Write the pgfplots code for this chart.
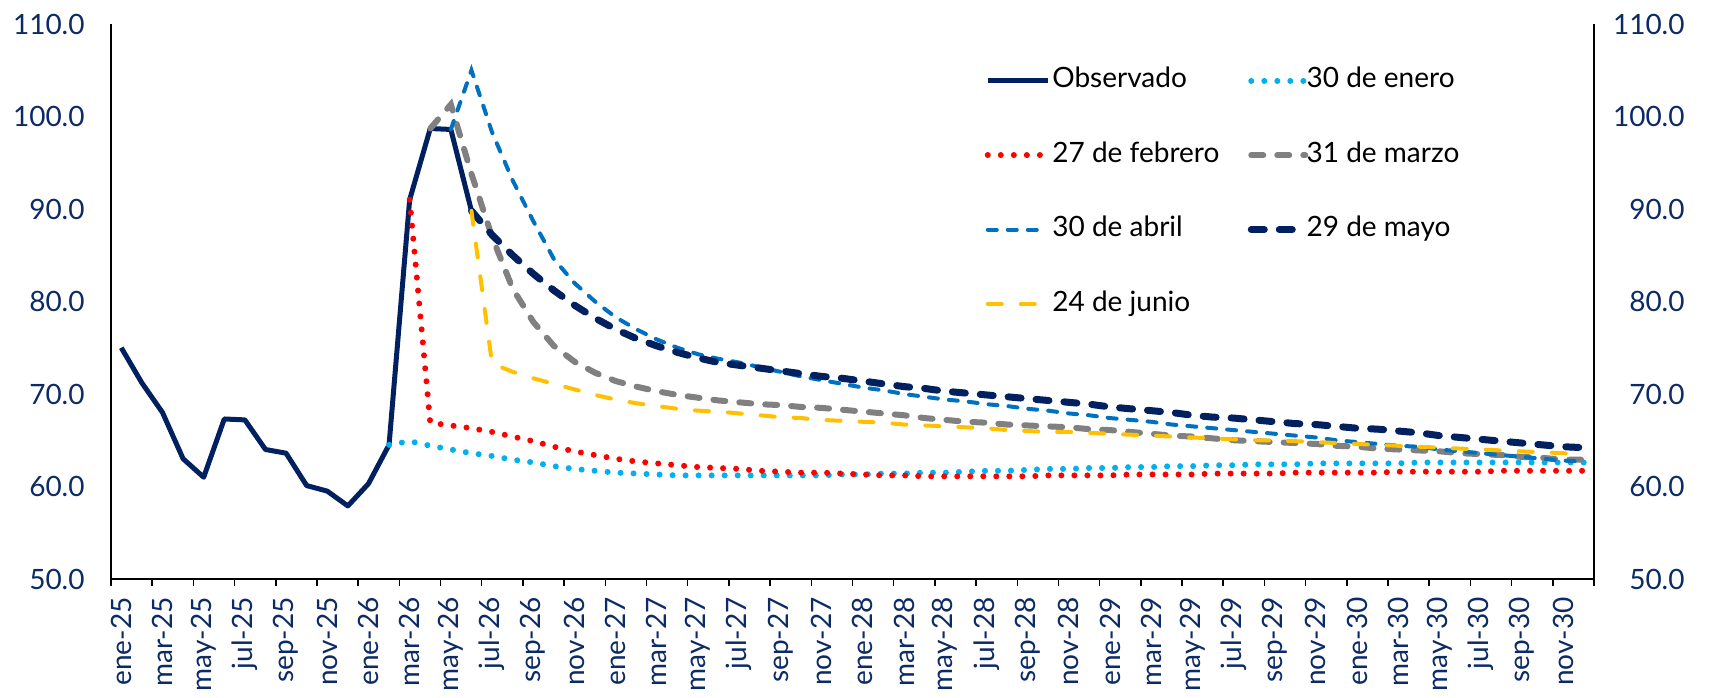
\documentclass[border=0pt]{standalone}
\usepackage{pgfplots}
\pgfplotsset{compat=1.18}
\usepackage{fontspec}
\setmainfont{Lato}
\definecolor{navy}{HTML}{002060}
\definecolor{lblue}{HTML}{00B0F0}
\definecolor{myred}{HTML}{FF0000}
\definecolor{mygray}{HTML}{808080}
\definecolor{myblue}{HTML}{0070C0}
\definecolor{myyellow}{HTML}{FFC000}
\definecolor{ticknavy}{HTML}{0B2A66}
\pgfplotsset{
  legend image code/.code={\draw[#1] (0pt,0pt) -- (30pt,0pt);},
  short legend/.style={legend image code/.code={\draw[##1] (0pt,0pt) -- (27pt,0pt);}},
  common/.style={
    at={(0pt,0pt)}, anchor=south west,
    scale only axis, width=741.5pt, height=277.5pt,
    xmin=-0.5, xmax=71.5, ymin=50, ymax=110,
    ytick={50,60,...,110},
    yticklabel style={/pgf/number format/fixed, /pgf/number format/fixed zerofill,
      /pgf/number format/precision=1, /pgf/number format/assume math mode=true},
    tick label style={text=ticknavy},
    axis line style={black, line width=0.75pt},
    major tick length=0pt,
  },
}
\begin{document}
\fontsize{14pt}{17pt}\selectfont
\begin{tikzpicture}
\begin{axis}[common,
  axis x line*=bottom, axis y line*=left,
  xtick={0,2,...,70},
  xticklabels={ene-25,mar-25,may-25,jul-25,sep-25,nov-25,
               ene-26,mar-26,may-26,jul-26,sep-26,nov-26,
               ene-27,mar-27,may-27,jul-27,sep-27,nov-27,
               ene-28,mar-28,may-28,jul-28,sep-28,nov-28,
               ene-29,mar-29,may-29,jul-29,sep-29,nov-29,
               ene-30,mar-30,may-30,jul-30,sep-30,nov-30},
  xticklabel style={rotate=90, anchor=east, inner sep=0pt},
  xticklabel shift=9pt,
  minor xtick={-0.5,1.5,...,71.5},
  minor tick length=3.5pt,
  tick align=outside,
  minor tick style={black, line width=0.75pt},
  yticklabel style={anchor=east, inner sep=0pt},
  yticklabel shift=13pt,
  legend columns=2,
  legend cell align=left,
  legend style={at={(0.5892,0.921)}, anchor=north west, draw=none, fill=none,
    inner sep=0pt, outer sep=0pt, row sep=24.2pt,
    nodes={inner sep=0pt, text height=10pt, text depth=3pt, text=black},
    /tikz/column 1/.style={column sep=0.8pt},
    /tikz/column 2/.style={column sep=14.2pt},
    /tikz/column 3/.style={column sep=-3.8pt}},
]
\addplot[navy, line width=2.5pt, line join=round] coordinates {
(0,75.0)(1,71.2)(2,68.0)(3,63.0)(4,61.0)(5,67.3)(6,67.2)(7,64.0)(8,63.6)(9,60.1)
(10,59.5)(11,57.9)(12,60.3)(13,64.5)(14,91.0)(15,98.7)(16,98.6)(17,89.8)};
\addlegendentry{Observado}
\addplot[lblue, line width=3pt, line cap=round, dash pattern=on 0.01pt off 6.5pt] coordinates {
(13,64.5)(14,64.9)(15,64.4)(16,64.0)(17,63.6)(18,63.3)(19,62.9)(20,62.6)(21,62.2)(22,61.9)
(23,61.7)(24,61.5)(25,61.4)(26,61.3)(27,61.2)(28,61.2)(29,61.2)(30,61.2)(31,61.2)(32,61.2)
(33,61.2)(34,61.2)(35,61.3)(36,61.3)(37,61.4)(38,61.4)(39,61.5)(40,61.5)(41,61.6)(42,61.7)
(43,61.7)(44,61.8)(45,61.9)(46,61.9)(47,62.0)(48,62.0)(49,62.1)(50,62.1)(51,62.2)(52,62.2)
(53,62.3)(54,62.3)(55,62.4)(56,62.4)(57,62.4)(58,62.5)(59,62.5)(60,62.5)(61,62.5)(62,62.5)
(63,62.6)(64,62.6)(65,62.6)(66,62.6)(67,62.6)(68,62.6)(69,62.6)(70,62.6)(71,62.6)};
\addlegendentry{30 de enero}
\addplot[myred, line width=3pt, line cap=round, dash pattern=on 0.01pt off 6.5pt] coordinates {
(14,91.0)(15,66.9)(16,66.6)(17,66.3)(18,65.9)(19,65.4)(20,64.9)(21,64.3)(22,63.8)(23,63.4)
(24,63.0)(25,62.7)(26,62.5)(27,62.3)(28,62.1)(29,62.0)(30,61.9)(31,61.7)(32,61.6)(33,61.5)
(34,61.5)(35,61.4)(36,61.3)(37,61.2)(38,61.2)(39,61.1)(40,61.1)(41,61.1)(42,61.1)(43,61.1)
(44,61.1)(45,61.2)(46,61.2)(47,61.2)(48,61.2)(49,61.3)(50,61.3)(51,61.3)(52,61.3)(53,61.4)
(54,61.4)(55,61.4)(56,61.4)(57,61.5)(58,61.5)(59,61.5)(60,61.5)(61,61.5)(62,61.6)(63,61.6)
(64,61.6)(65,61.6)(66,61.6)(67,61.7)(68,61.7)(69,61.7)(70,61.7)(71,61.7)};
\addlegendentry{27 de febrero}
\addplot[mygray, line width=3pt, line cap=round, dash pattern=on 6pt off 7pt, short legend] coordinates {
(15,98.7)(16,101.3)(17,93.8)(18,87.0)(19,81.4)(20,77.8)(21,75.2)(22,73.5)(23,72.3)(24,71.4)
(25,70.8)(26,70.3)(27,69.9)(28,69.6)(29,69.3)(30,69.1)(31,68.9)(32,68.8)(33,68.6)(34,68.5)
(35,68.3)(36,68.1)(37,67.9)(38,67.7)(39,67.4)(40,67.2)(41,67.0)(42,66.9)(43,66.7)(44,66.6)
(45,66.5)(46,66.4)(47,66.2)(48,66.1)(49,65.9)(50,65.7)(51,65.5)(52,65.4)(53,65.2)(54,65.0)
(55,64.9)(56,64.8)(57,64.7)(58,64.6)(59,64.4)(60,64.3)(61,64.1)(62,64.0)(63,63.9)(64,63.8)
(65,63.6)(66,63.5)(67,63.4)(68,63.2)(69,63.1)(70,62.9)(71,62.9)};
\addlegendentry{31 de marzo}
\addplot[myblue, line width=2pt, line cap=round, dash pattern=on 4.5pt off 5.5pt, short legend] coordinates {
(16,98.6)(17,105.0)(18,98.3)(19,93.1)(20,88.7)(21,84.6)(22,82.0)(23,80.0)(24,78.3)(25,77.0)
(26,75.9)(27,75.0)(28,74.3)(29,73.8)(30,73.4)(31,72.9)(32,72.4)(33,71.9)(34,71.5)(35,71.1)
(36,70.7)(37,70.4)(38,70.0)(39,69.7)(40,69.4)(41,69.2)(42,68.9)(43,68.7)(44,68.4)(45,68.2)
(46,67.9)(47,67.7)(48,67.4)(49,67.2)(50,67.0)(51,66.7)(52,66.5)(53,66.3)(54,66.1)(55,65.9)
(56,65.7)(57,65.5)(58,65.3)(59,65.0)(60,64.8)(61,64.6)(62,64.4)(63,64.3)(64,64.0)(65,63.8)
(66,63.6)(67,63.4)(68,63.2)(69,63.0)(70,62.8)(71,62.7)};
\addlegendentry{30 de abril}
\addplot[navy, line width=3.5pt, line cap=round, dash pattern=on 6.5pt off 7.5pt, short legend] coordinates {
(17,89.8)(18,87.2)(19,85.0)(20,83.0)(21,81.2)(22,79.6)(23,78.2)(24,77.0)(25,76.0)(26,75.2)
(27,74.5)(28,73.9)(29,73.4)(30,73.1)(31,72.8)(32,72.5)(33,72.2)(34,71.9)(35,71.7)(36,71.4)
(37,71.1)(38,70.8)(39,70.6)(40,70.3)(41,70.1)(42,69.9)(43,69.7)(44,69.5)(45,69.3)(46,69.1)
(47,68.9)(48,68.6)(49,68.4)(50,68.2)(51,68.0)(52,67.7)(53,67.5)(54,67.4)(55,67.2)(56,67.0)
(57,66.8)(58,66.7)(59,66.5)(60,66.3)(61,66.2)(62,66.0)(63,65.8)(64,65.5)(65,65.3)(66,65.1)
(67,64.9)(68,64.7)(69,64.5)(70,64.3)(71,64.2)};
\addlegendentry{29 de mayo}
\addplot[myyellow, line width=2pt, line cap=round, dash pattern=on 7pt off 9.5pt, short legend] coordinates {
(17,89.8)(18,73.3)(19,72.4)(20,71.7)(21,71.1)(22,70.5)(23,69.9)(24,69.4)(25,69.0)(26,68.7)
(27,68.4)(28,68.2)(29,68.1)(30,67.9)(31,67.7)(32,67.5)(33,67.4)(34,67.2)(35,67.1)(36,67.0)
(37,66.9)(38,66.7)(39,66.6)(40,66.5)(41,66.4)(42,66.3)(43,66.1)(44,66.0)(45,65.9)(46,65.9)
(47,65.8)(48,65.7)(49,65.6)(50,65.5)(51,65.4)(52,65.3)(53,65.2)(54,65.1)(55,65.0)(56,65.0)
(57,64.9)(58,64.8)(59,64.7)(60,64.6)(61,64.5)(62,64.4)(63,64.3)(64,64.2)(65,64.1)(66,64.0)
(67,63.9)(68,63.8)(69,63.7)(70,63.6)(71,63.5)};
\addlegendentry{24 de junio}
\end{axis}
\begin{axis}[common,
  axis y line*=right, axis x line=none,
  yticklabel style={anchor=east, inner sep=0pt},
  yticklabel shift=45.5pt,
]
\addplot[draw=none] coordinates {(0,50)};
\end{axis}
\pgfresetboundingbox
\path[use as bounding box] (-55.5pt,-59pt) rectangle (799.5pt,289.5pt);
\end{tikzpicture}
\end{document}
